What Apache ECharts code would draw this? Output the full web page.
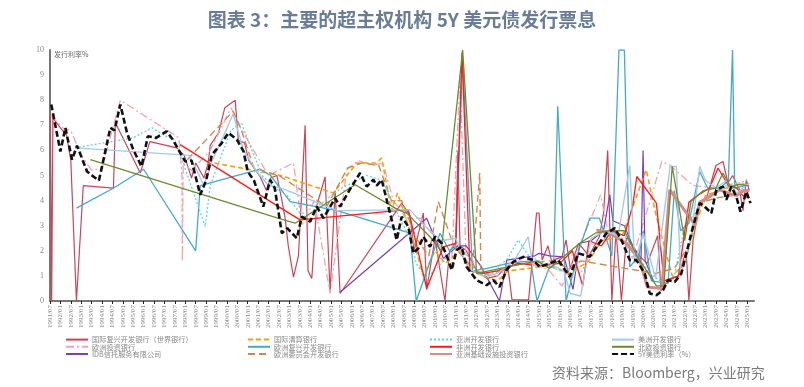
<!DOCTYPE html>
<html><head><meta charset="utf-8">
<script src="https://cdn.jsdelivr.net/npm/echarts@6/dist/echarts.min.js"></script>
<style>html,body{margin:0;padding:0;background:#fff}#c{width:804px;height:387px}</style>
</head><body><div id="c"></div>
<script>
// x = decimal year, y = coupon %
const seriesNames = ['国际复兴开发银行（世界银行）','欧洲投资银行','IDB信托服务有限公司','国际清算银行','欧洲复兴开发银行','欧洲委员会开发银行','亚洲开发银行','非洲开发银行','亚洲基础设施投资银行','美洲开发银行','北欧投资银行','5Y美债利率（%）'];
const yTicks = [0,1,2,3,4,5,6,7,8,9,10];

const wbData = [[1991.52,7.5],[1991.58,0],[1991.64,7.3],[1992.0,6.9],[1992.3,6.6],[1992.5,5.6],[1992.77,0],[1993.1,4.6],[1994.55,4.5],[1994.64,7.1],[1995.84,5.1],[1996.3,6.35],[1997.6,6.1],[1997.95,5.8],[1998.3,4.9],[1998.5,5.5],[1998.9,4.9],[1999.1,5.5],[1999.2,6.2],[1999.6,6.7],[1999.9,7.7],[2000.4,8.0],[2000.55,6.4],[2000.85,6.3],[2001.05,5.6],[2001.6,4.95],[2001.9,4.4],[2002.1,4.9],[2002.4,5.0],[2002.6,4.2],[2002.8,3.3],[2002.95,2.2],[2003.2,0.95],[2003.44,1.8],[2003.76,7.0],[2003.9,1.2],[2004.08,0.9],[2004.32,3.8],[2004.72,4.95],[2004.96,0.35],[2005.2,4.4],[2005.44,0.3],[2008.4,3.9],[2008.8,3.4],[2009.0,2.0],[2009.44,3.5],[2009.6,0.45],[2010.0,2.5],[2010.48,0],[2010.7,2.0],[2011.0,2.2],[2011.1,6.0],[2011.2,2.2],[2011.5,2.0],[2012.0,1.2],[2012.5,0.9],[2013.0,1.0],[2013.5,1.4],[2013.7,0.05],[2014.5,0.05],[2014.88,3.5],[2015.0,3.5],[2015.15,1.63],[2015.43,2.2],[2015.6,1.6],[2016.1,1.76],[2016.3,2.43],[2016.5,1.3],[2016.9,2.3],[2017.4,1.8],[2017.9,2.56],[2018.1,3.5],[2018.3,6.0],[2018.5,0],[2018.7,2.8],[2018.96,0],[2019.2,2.56],[2019.86,1.76],[2020.2,1.5],[2020.7,2.6],[2020.86,0.4],[2021.2,0.83],[2021.7,1.0],[2022.07,2.0],[2022.2,0],[2022.4,2.4],[2022.72,3.9],[2023.05,4.1],[2023.5,5.4],[2023.84,5.56],[2024.08,4.7],[2024.3,5.0],[2024.64,4.43],[2024.8,3.6],[2024.96,4.83],[2025.1,4.4]];
const eibData = [[1991.55,7.4],[1992.1,6.9],[1992.5,6.8],[1993.0,5.8],[1993.5,5.2],[1994.0,5.3],[1994.88,8.0],[1997.7,6.5],[1997.84,5.0],[1997.86,1.6],[1997.9,5.5],[1998.3,5.2],[1999.2,6.0],[2000.2,7.7],[2000.6,7.0],[2001.0,6.4],[2002.0,5.0],[2003.2,5.5],[2003.6,3.0],[2004.2,4.0],[2004.96,0.3],[2005.76,5.23],[2006.3,5.6],[2007.0,5.4],[2007.5,5.5],[2008.0,4.0],[2008.6,3.3],[2009.3,3.3],[2010.0,2.5],[2010.8,1.5],[2011.2,9.0],[2011.5,1.6],[2012.0,1.2],[2013.0,1.0],[2014.0,1.6],[2014.8,1.5],[2015.5,1.2],[2016.1,0.6],[2016.6,1.5],[2017.96,4.23],[2018.3,2.8],[2019.0,2.5],[2019.5,1.7],[2020.9,5.56],[2021.3,5.4],[2022.4,4.6],[2023.5,4.5],[2024.5,4.7],[2025.1,4.6]];
const idbData = [[2005.44,0.35],[2009.6,3.3],[2010.4,1.7],[2011.1,2.2],[2011.5,2.2],[2012.2,1.4],[2013.1,0],[2013.45,1.63],[2014.0,1.7],[2014.8,1.8],[2015.0,1.9],[2015.5,1.8],[2016.2,1.76],[2016.63,0.46],[2016.96,2.3],[2017.5,2.4],[2018.1,2.8],[2018.4,4.23],[2018.55,3.2],[2019.1,3.0],[2019.5,2.2],[2019.9,1.6],[2020.0,6.0],[2020.1,1.6],[2020.5,0.8]];
const bisData = [[1999.4,5.5],[2002.6,5.0],[2005.12,4.3],[2006.24,5.5],[2007.2,5.5],[2007.44,5.7],[2007.9,3.6],[2008.2,4.3],[2008.6,3.3],[2009.1,2.0],[2009.44,1.0],[2010.0,2.0],[2010.5,1.5],[2011.2,2.0],[2011.7,1.2],[2012.3,1.0],[2013.0,0.8],[2013.5,1.2],[2014.5,1.3],[2015.5,1.4],[2016.5,1.1],[2017.4,1.6],[2018.0,2.4],[2019.0,2.6],[2020.15,5.23],[2020.6,3.5],[2021.4,1.0],[2022.0,1.5],[2022.5,3.0],[2023.0,4.2],[2024.0,4.5],[2025.0,4.7]];
const ebrdData = [[1992.77,3.7],[1994.56,4.5],[1996.0,5.25],[1998.5,2.0],[1998.72,4.6],[2001.6,5.25],[2002.1,5.0],[2003.04,3.96],[2005.3,3.6],[2008.8,2.7],[2009.1,0],[2010.24,2.7],[2010.7,2.0],[2011.0,2.3],[2011.33,9.6],[2011.8,1.2],[2012.5,1.3],[2013.5,1.5],[2014.6,1.6],[2014.9,0],[2015.5,1.36],[2015.7,1.36],[2015.9,7.76],[2016.3,0],[2016.9,2.0],[2017.44,3.3],[2017.9,3.3],[2018.5,1.8],[2018.84,10],[2019.1,10],[2019.36,1.36],[2019.8,1.8],[2020.0,2.8],[2020.4,0.8],[2021.2,0.7],[2021.5,4.4],[2021.8,2.8],[2022.2,3.1],[2022.72,5.16],[2023.1,4.5],[2023.7,4.5],[2024.1,4.8],[2024.3,10],[2024.4,4.5],[2024.9,4.6],[2025.1,4.6]];
const cebData = [[1998.1,5.63],[2000.3,7.56],[2000.7,6.8],[2001.3,5.3],[2002.5,5.0],[2004.8,3.76],[2005.8,5.3],[2006.5,5.5],[2007.3,5.4],[2007.9,4.0],[2008.4,4.0],[2009.1,2.5],[2009.7,1.8],[2010.16,3.96],[2010.9,2.2],[2011.3,1.8],[2011.8,1.3],[2012.15,5.1],[2012.2,1.3],[2012.6,1.0],[2013.5,1.4],[2014.5,1.5],[2015.5,1.6],[2016.5,1.3],[2017.0,1.6],[2020.6,1.1],[2021.5,1.3],[2022.2,2.2],[2022.7,3.9],[2023.5,4.1],[2024.3,4.2],[2025.0,4.4]];
const adbData = [[1992.7,6.1],[1995.5,6.5],[1996.4,6.9],[1997.0,6.6],[1997.5,6.4],[1997.9,5.5],[1998.96,2.96],[1999.2,4.6],[1999.6,5.5],[2000.2,6.8],[2000.7,7.1],[2001.2,6.0],[2001.7,5.0],[2002.3,4.5],[2002.9,4.2],[2003.5,3.5],[2004.0,3.5],[2004.7,4.0],[2005.5,4.5],[2006.0,4.7],[2006.7,5.0],[2007.5,4.8],[2008.0,3.8],[2008.8,2.5],[2009.1,1.5],[2009.6,0.9],[2010.3,1.5],[2011.0,2.2],[2011.5,1.9],[2012.0,1.2],[2012.6,1.0],[2013.5,1.7],[2014.0,2.43],[2014.5,1.8],[2015.0,1.6],[2016.0,1.2],[2016.5,1.3],[2017.0,1.1],[2017.5,1.9],[2018.4,2.7],[2019.0,2.8],[2019.6,2.0],[2020.3,1.1],[2021.0,0.7],[2021.5,1.0],[2022.0,3.0],[2022.5,3.5],[2023.0,4.0],[2023.6,4.4],[2024.2,4.6],[2025.0,4.8]];
const afdbData = [[1997.76,6.23],[2002.48,3.76],[2003.52,3.23],[2008.16,3.6],[2008.72,3.63],[2009.6,0.5],[2010.4,2.16],[2011.0,2.3],[2011.3,9.9],[2011.68,1.2],[2012.3,1.1],[2013.0,1.2],[2014.0,1.5],[2015.0,1.4],[2016.0,1.5],[2016.6,2.0],[2017.1,0.6],[2017.4,2.4],[2018.0,2.2],[2018.5,2.8],[2019.1,2.6],[2019.5,3.8],[2019.7,4.96],[2020.64,3.9],[2021.0,0.8],[2021.7,1.0],[2022.2,3.93],[2022.6,4.2],[2023.2,4.5],[2023.6,5.3],[2024.1,4.6],[2024.5,4.5],[2024.8,4.2],[2025.1,4.1]];
const aiibData = [[2017.76,2.83],[2018.4,2.7],[2019.2,2.3],[2019.84,1.63],[2020.2,0.56],[2020.9,0.5],[2021.28,4.43],[2022.5,3.03],[2022.72,3.93],[2023.2,4.16],[2023.68,4.43],[2024.1,4.3],[2024.5,4.2],[2024.8,4.4],[2025.1,4.4]];
const iadbData = [[1992.72,6.1],[1998.2,5.8],[1998.9,4.6],[1999.3,5.6],[1999.8,6.5],[2000.3,7.45],[2000.8,6.0],[2001.4,5.2],[2002.0,4.6],[2002.6,4.5],[2003.04,4.36],[2005.3,3.6],[2008.8,3.63],[2009.5,3.0],[2010.3,2.4],[2011.0,2.5],[2011.6,1.3],[2012.3,1.0],[2013.0,1.1],[2013.8,1.6],[2014.48,2.56],[2014.7,1.4],[2015.5,1.5],[2016.2,1.2],[2016.5,0.3],[2017.0,0.2],[2017.5,2.5],[2018.2,2.8],[2018.8,2.6],[2019.36,5.4],[2019.6,1.5],[2020.0,2.7],[2020.6,0.9],[2021.3,5.36],[2021.6,5.36],[2021.8,1.0],[2022.3,2.5],[2022.72,5.36],[2023.0,4.8],[2023.5,4.5],[2024.0,4.8],[2024.5,4.3],[2025.1,4.7]];
const nibData = [[1993.44,5.63],[2002.45,3.3],[2003.28,3.1],[2006.16,4.63],[2008.24,3.63],[2008.64,3.5],[2009.76,2.56],[2010.3,2.0],[2011.33,10],[2012.0,1.1],[2014.9,1.6],[2015.5,1.3],[2016.96,2.3],[2017.7,2.7],[2018.4,2.8],[2019.1,2.8],[2019.7,1.8],[2020.64,0.6],[2021.0,0.6],[2021.4,5.36],[2021.6,4.4],[2022.0,2.4],[2022.3,3.96],[2022.9,4.4],[2023.5,4.5],[2023.84,5.1],[2024.2,4.56],[2024.6,4.65],[2025.03,4.6]];
const ustData = [[1991.56,7.83],[1992.0,5.96],[1992.24,6.9],[1992.56,5.63],[1992.8,6.19],[1993.28,5.16],[1993.6,4.95],[1993.85,4.8],[1994.0,5.36],[1994.4,6.9],[1994.6,6.8],[1994.88,7.83],[1995.2,6.7],[1995.5,6.03],[1995.9,5.36],[1996.2,6.56],[1996.6,6.5],[1997.1,6.76],[1997.4,6.43],[1997.76,5.9],[1998.0,5.56],[1998.3,5.6],[1998.72,4.23],[1999.0,4.8],[1999.28,5.83],[1999.76,6.3],[2000.07,6.7],[2000.48,6.43],[2000.8,5.96],[2001.0,5.16],[2001.3,4.8],[2001.75,3.76],[2002.08,4.83],[2002.3,4.5],[2002.64,2.7],[2002.9,2.9],[2003.36,2.5],[2003.6,3.36],[2004.0,3.16],[2004.32,3.76],[2004.64,3.3],[2005.2,4.1],[2005.44,3.76],[2005.9,4.43],[2006.4,5.1],[2006.72,4.56],[2007.04,4.83],[2007.2,4.6],[2007.44,4.83],[2007.76,3.76],[2008.16,2.43],[2008.4,3.36],[2008.72,2.96],[2008.96,1.9],[2009.2,2.1],[2009.44,2.56],[2009.76,2.16],[2010.0,2.56],[2010.32,2.3],[2010.64,1.63],[2010.8,1.23],[2011.04,2.03],[2011.28,2.16],[2011.52,1.36],[2012.0,0.83],[2012.48,0.63],[2012.8,0.83],[2013.1,0.56],[2013.44,1.23],[2013.76,1.56],[2014.24,1.76],[2014.72,1.63],[2015.04,1.36],[2015.52,1.5],[2015.92,1.63],[2016.48,0.96],[2016.88,1.9],[2017.44,1.76],[2017.76,2.16],[2018.24,2.7],[2018.64,2.9],[2018.96,2.43],[2019.36,1.63],[2019.68,1.63],[2020.08,1.1],[2020.32,0.3],[2020.64,0.23],[2020.96,0.43],[2021.2,0.83],[2021.52,0.76],[2021.84,1.1],[2022.16,2.16],[2022.4,2.96],[2022.72,3.9],[2022.96,3.76],[2023.28,3.5],[2023.52,4.43],[2023.84,4.56],[2024.0,4.03],[2024.24,4.56],[2024.48,4.16],[2024.68,3.56],[2024.96,4.36],[2025.16,3.9]];

const dataList = [wbData,eibData,idbData,bisData,ebrdData,cebData,adbData,afdbData,aiibData,iadbData,nibData,ustData];
const styles = [
  {color:'#c8455a', width:1.2, type:'solid'},
  {color:'#f4a3b4', width:1.3, type:[8,3,2,3]},
  {color:'#7a3db8', width:1.2, type:'solid'},
  {color:'#f5a00f', width:1.6, type:[5,3]},
  {color:'#46a9c7', width:1.3, type:'solid'},
  {color:'#cc8a4c', width:1.4, type:[7,4]},
  {color:'#5fd4dc', width:1.3, type:[2,2]},
  {color:'#ff1a1a', width:1.3, type:'solid'},
  {color:'#d98a86', width:3, type:'solid'},
  {color:'#a8c8e8', width:1.4, type:'solid'},
  {color:'#6d8a30', width:1.3, type:'solid'},
  {color:'#111111', width:2.6, type:[6,3]}
];

const chart = echarts.init(document.getElementById('c'), null, {renderer:'canvas'});
const series = seriesNames.map((n,i)=>({
  name:n, type:'line', data:dataList[i], symbol:'none', clip:true,
  lineStyle:{color:styles[i].color, width:styles[i].width, type:styles[i].type},
  itemStyle:{color:styles[i].color}, z: i===11 ? 5 : 2, animation:false
}));
function legendCol(names, left){
  return {orient:'vertical', left:left, top:331, itemWidth:22, itemHeight:6, itemGap:0,
    data:names, selectedMode:false, itemStyle:{opacity:0},
    textStyle:{fontSize:7.2, color:'#888', lineHeight:6.3, fontFamily:'Noto Sans CJK SC', padding:[0,0,0,-1]}};
}
chart.setOption({
  animation:false,
  title:{text:'图表 3：主要的超主权机构 5Y 美元债发行票息', left:'center', top:5,
    textStyle:{fontSize:19, fontWeight:'bold', color:'#6a7d97', fontFamily:'Noto Sans CJK SC'}},
  grid:{left:50, right:50, top:50, bottom:86},
  legend:[
    legendCol([seriesNames[0],seriesNames[1],seriesNames[2]], 60),
    legendCol([seriesNames[3],seriesNames[4],seriesNames[5]], 242),
    legendCol([seriesNames[6],seriesNames[7],seriesNames[8]], 424),
    legendCol([seriesNames[9],seriesNames[10],seriesNames[11]], 606)
  ],
  xAxis:{type:'value', min:1991.5, max:2025.33, interval:0.5,
    axisLine:{lineStyle:{color:'#777', width:2}},
    axisTick:{show:true, length:3, lineStyle:{color:'#222'}},
    splitLine:{show:false},
    axisLabel:{rotate:90, fontSize:7, color:'#888', fontFamily:'Liberation Serif', margin:4, showMaxLabel:false,
      formatter:function(v){ if (Math.abs(v*2-Math.round(v*2))>1e-6) return ''; const y=Math.floor(v+1e-6); return y+'/'+((v-y)>0.25?'07':'01'); }}},
  yAxis:{type:'value', min:yTicks[0], max:yTicks[yTicks.length-1], interval:1,
    axisLine:{show:true, lineStyle:{color:'#777', width:2}},
    axisTick:{show:false}, splitLine:{show:false},
    axisLabel:{fontSize:8, color:'#888', fontFamily:'Liberation Serif', margin:6}},
  graphic:[
    {type:'text', left:54, top:51, style:{text:'发行利率%', fontSize:7, fill:'#666', fontFamily:'Noto Sans CJK SC'}},
    {type:'text', left:552, top:366, style:{text:'资料来源：Bloomberg，兴业研究', fontSize:14, fill:'#7a7a7a', fontFamily:'Noto Sans CJK SC'}}
  ],
  series:series
});
</script></body></html>
